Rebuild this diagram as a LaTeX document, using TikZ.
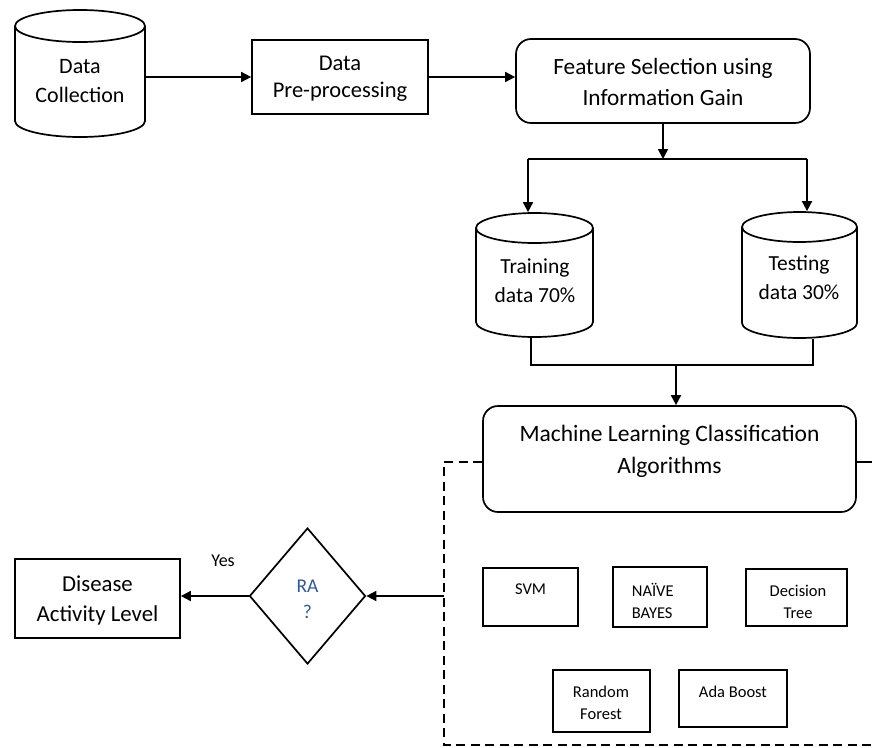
\documentclass[tikz,border=0pt]{standalone}
\usepackage{fontspec}
\setmainfont{Carlito}
\usetikzlibrary{arrows.meta,calc,shapes.geometric}

\begin{document}
\begin{tikzpicture}[x=1pt,y=-1pt,line width=1.7pt,
  main/.style={font=\fontsize{22}{29}\selectfont,align=center,inner sep=0pt},
  big/.style={font=\fontsize{23.3}{30.5}\selectfont,align=center,inner sep=0pt},
  small/.style={font=\fontsize{16.5}{22}\selectfont,align=center,inner sep=0pt},
  frame/.style={draw,rectangle,inner sep=0pt},
  slot/.style={rectangle,inner sep=0pt},
  rbox/.style={draw,rectangle,rounded corners=15pt,inner sep=0pt},
  arr/.style={-{Triangle[length=10pt,width=10pt]}},
  dashline/.style={dash pattern=on 9pt off 5.5pt,line width=1.5pt}]
\definecolor{rablue}{RGB}{52,88,140}
\useasboundingbox (0,0) rectangle (872,747);

% ---------- data collection drum ----------
\node[slot,minimum width=130pt,minimum height=127pt] (dc) at (80,73.5) {};
\draw (15,26) -- (15,121) arc[start angle=180,end angle=0,x radius=65,y radius=16] -- (145,26);
\draw (80,26) ellipse[x radius=65,y radius=16];
\node[main] (dcT) at (80,81) {Data\\Collection};

% ---------- preprocessing ----------
\node[frame,minimum width=176pt,minimum height=74pt] (pp) at (340,77) {};
\node[main,font=\fontsize{22.5}{27}\selectfont] (ppT) at (340,79) {Data\\Pre-processing};

% ---------- feature selection ----------
\node[rbox,minimum width=294pt,minimum height=84pt] (fs) at (663,81) {};
\node[big] (fsT) at (663,82) {Feature Selection using\\Information Gain};

% ---------- training / testing drums ----------
\node[slot,minimum width=117pt,minimum height=124pt] (tr) at (534.5,275) {};
\draw (476,228) -- (476,322) arc[start angle=180,end angle=0,x radius=58.5,y radius=15] -- (593,228);
\draw (534.5,228) ellipse[x radius=58.5,y radius=15];
\node[main,font=\fontsize{21.5}{29}\selectfont] (trT) at (535,280.5) {Training\\data 70\%};

\node[slot,minimum width=115pt,minimum height=126pt] (te) at (799.5,275) {};
\draw (742,227) -- (742,323) arc[start angle=180,end angle=0,x radius=57.5,y radius=15] -- (857,227);
\draw (799.5,227) ellipse[x radius=57.5,y radius=15];
\node[main,font=\fontsize{21.5}{29}\selectfont] (teT) at (799,277.5) {Testing\\data 30\%};

% ---------- classification ----------
\node[rbox,minimum width=373pt,minimum height=106pt] (ml) at (669.5,459) {};
\node[big,font=\fontsize{23.5}{32}\selectfont] (mlT) at (669.5,451) {Machine Learning Classification\\Algorithms};

% ---------- algorithms ----------
\node[frame,minimum width=95pt,minimum height=58pt] (svm) at (530.5,597) {};
\node[small] (svmT) at (530.5,589) {SVM};
\node[frame,minimum width=94pt,minimum height=60pt] (nb) at (660,597) {};
\node[small,align=left,anchor=west] (nbT) at (631,600.5) {NAÏVE\\BAYES};
\node[frame,minimum width=101pt,minimum height=57pt] (dt) at (796.5,597.5) {};
\node[small] (dtT) at (798,601.5) {Decision\\Tree};
\node[frame,minimum width=97pt,minimum height=62pt] (rf) at (601.5,701) {};
\node[small] (rfT) at (601,702.5) {Random\\Forest};
\node[frame,minimum width=108pt,minimum height=57pt] (ab) at (733,698.5) {};
\node[small] (abT) at (733,692) {Ada Boost};

% ---------- decision and result ----------
\node[draw,diamond,minimum width=116pt,minimum height=136pt,inner sep=0pt] (ra) at (307.5,596) {};
\node[font=\fontsize{19.5}{26}\selectfont,align=center,inner sep=0pt,text=rablue] (raT) at (307.5,599) {RA\\?};
\node[frame,minimum width=165pt,minimum height=79pt] (dal) at (97.5,598.5) {};
\node[main,font=\fontsize{22.8}{30}\selectfont] (dalT) at (97.5,600) {Disease\\Activity Level};
\node[font=\fontsize{18}{20}\selectfont,inner sep=0pt] (yes) at (223,561) {Yes};

% ---------- connectors ----------
\coordinate (sL) at (528,159);
\coordinate (sR) at (807,159);
\coordinate (mL) at (531,365);
\coordinate (mR) at (813,365);
\coordinate (mC) at (676,365);
\coordinate (dX) at (444,745);
\coordinate (edge) at (872,745);

\draw[arr] (dc.east |- pp.west) -- (pp.west);
\draw[arr] (pp.east) -- (pp.east -| fs.west);
\draw[arr] (fs.south) -- (fs.south |- sL);
\draw (sL) -- (sR);
\draw[arr] (sL) -- (sL |- tr.north);
\draw[arr] (sR) -- (sR |- te.north);
\draw (mL |- tr.south) -- (mL) -- (mR) -- (mR |- te.south);
\draw[arr] (mC) -- (mC |- ml.north);
\draw[dashline] ($(ml.west)+(0,3)$) -- ($(ml.west -| dX)+(0,3)$) -- (dX) -- (edge);
\draw ($(ml.east)+(0,3)$) -- ($(ml.east -| edge)+(0,3)$);
\draw[arr] (ra.east -| dX) -- (ra.east);
\draw[arr] (ra.west) -- (ra.west -| dal.east);
\end{tikzpicture}
\end{document}
